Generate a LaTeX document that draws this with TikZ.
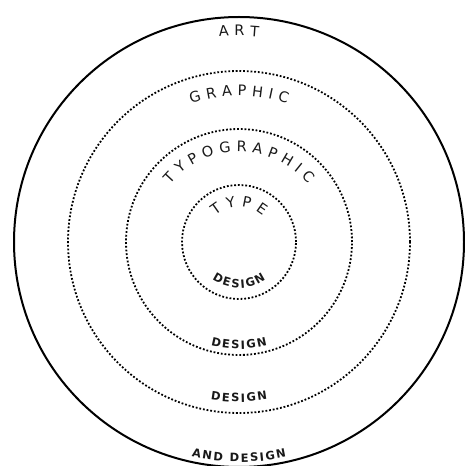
\documentclass[tikz,border=0pt]{standalone}
\usepackage{fontspec}
\setmainfont{DejaVu Sans}
\usetikzlibrary{decorations.text}

\begin{document}
\begin{tikzpicture}[x=1pt,y=1pt,
    rim/.style={line width=2pt},
    ring/.style={line width=1.8pt,dash pattern=on 1.8pt off 1.9pt},
    uplabel/.style={decorate,decoration={text effects along path,text={#1},text align=center,
      text effects/.cd,text along path,
      characters={anchor=base,inner sep=0pt,text=black!90,font=\fontsize{14.5}{16}\selectfont},
      character widths={inner xsep=2.7pt,font=\fontsize{14.5}{16}\selectfont}}},
    lowlabel/.style={decorate,decoration={text effects along path,text={#1},text align=center,
      text effects/.cd,text along path,
      characters={anchor=base,inner sep=0pt,text=black!90,font=\bfseries\fontsize{11.5}{13}\selectfont},
      character widths={inner xsep=0.8pt,font=\bfseries\fontsize{11.5}{13}\selectfont}}}]
  \useasboundingbox (0,0) rectangle (465,466);
  \begin{scope}[shift={(239,224)}]
    % the four fields
    \draw[rim] (0,0) circle[radius=225];
    \draw[ring] (0,0) circle[radius=171];
    \draw[ring] (0,0) circle[radius=113];
    \draw[ring] (0,0) circle[radius=57];
    % names on top
    \path[uplabel=ART] (180:206) arc[start angle=180,end angle=0,radius=206];
    \path[uplabel=GRAPHIC] (180:146) arc[start angle=180,end angle=0,radius=146];
    \path[uplabel=TYPOGRAPHIC] (180:90) arc[start angle=180,end angle=0,radius=90];
    \path[uplabel=TYPE] (180:35) arc[start angle=180,end angle=0,radius=35];
    % and design underneath
    \foreach \r in {46,107,160}
      \path[lowlabel=DESIGN] (180:\r) arc[start angle=180,end angle=360,radius=\r];
    \path[lowlabel=AND DESIGN] (180:220) arc[start angle=180,end angle=360,radius=220];
  \end{scope}
\end{tikzpicture}
\end{document}
